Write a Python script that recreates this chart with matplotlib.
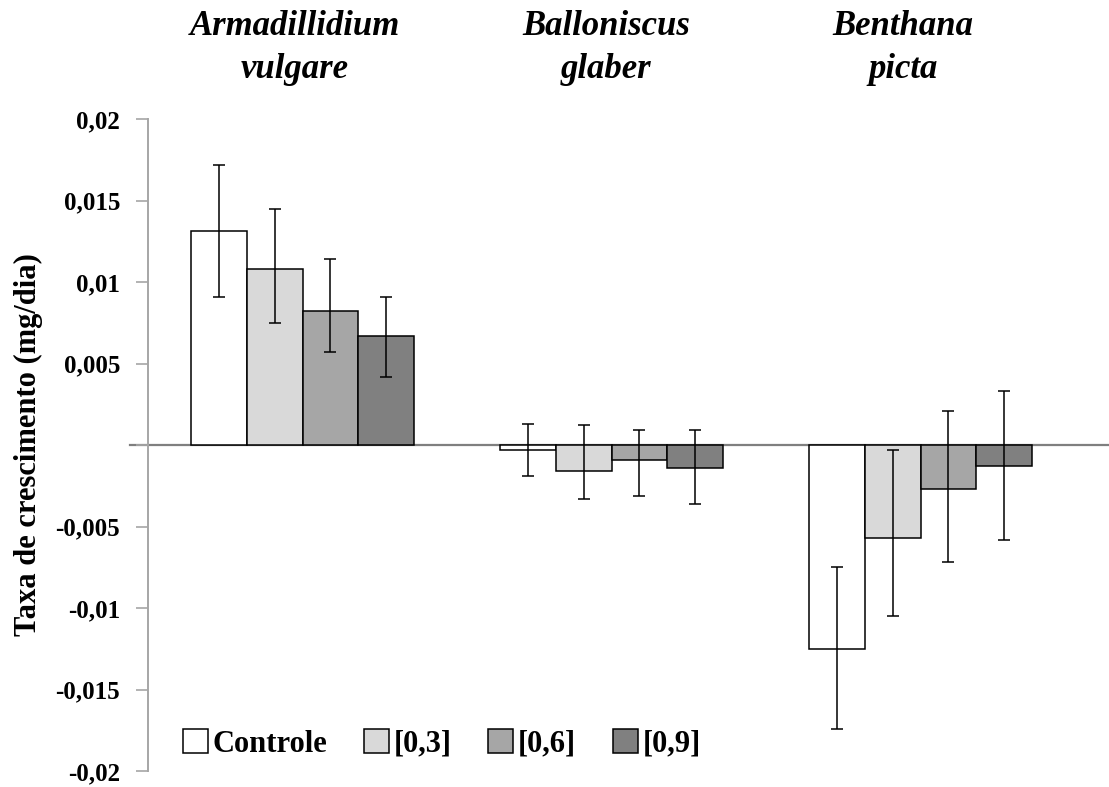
import numpy as np
import matplotlib
matplotlib.use("Agg")
from matplotlib import pyplot as plt
from matplotlib.patches import Patch

plt.rcParams['font.family'] = ['Liberation Serif', 'DejaVu Serif']

especies = ['Armadillidium\nvulgare', 'Balloniscus\nglaber', 'Benthana\npicta']
tratamentos = ['Controle', '[0,3]', '[0,6]', '[0,9]']
cores = ['#ffffff', '#d9d9d9', '#a6a6a6', '#808080']

# medias por tratamento (uma por especie)
controle = [0.0131, -0.0003, -0.0125]
c03 = [0.0108, -0.0016, -0.0057]
c06 = [0.0082, -0.0009, -0.0027]
c09 = [0.0067, -0.0014, -0.0013]

# erros (abaixo, acima)
err_controle = [[0.0040, 0.0016, 0.0049], [0.0041, 0.0016, 0.0050]]
err_c03 = [[0.0033, 0.0017, 0.0048], [0.0037, 0.0028, 0.0054]]
err_c06 = [[0.0025, 0.0022, 0.0045], [0.0032, 0.0018, 0.0048]]
err_c09 = [[0.0025, 0.0022, 0.0045], [0.0024, 0.0023, 0.0046]]

yticks = [0.02, 0.015, 0.01, 0.005, 0, -0.005, -0.01, -0.015, -0.02]
ytick_labels = ['0,02', '0,015', '0,01', '0,005', '', '-0,005', '-0,01', '-0,015', '-0,02']

medias = [controle, c03, c06, c09]
erros = [err_controle, err_c03, err_c06, err_c09]

fig = plt.figure(figsize=(11.09, 7.87), dpi=100)
ax = fig.add_axes([148/1109, 16/787, 961/1109, 652/787])

x = np.arange(len(especies))
larg = 0.181
for i in range(4):
    pos = x + (i - 1.5) * larg
    ax.bar(pos, medias[i], larg, color=cores[i], edgecolor='black', linewidth=1.1, zorder=2)
    ax.errorbar(pos, medias[i], yerr=erros[i], fmt='none', ecolor='black',
                elinewidth=1.1, capsize=4, capthick=1.1, zorder=3)

ax.axhline(0, xmin=-0.019, xmax=1, color='#7f7f7f', linewidth=1.6, clip_on=False, zorder=1)

ax.set_xlim(-0.5, 2.61)
ax.set_ylim(-0.02, 0.02)
ax.set_yticks(yticks)
ax.set_yticklabels(ytick_labels, fontsize=18, fontweight='bold')
ax.tick_params(axis='y', direction='out', length=9, width=1.2, color='#a6a6a6', pad=11)
ax.set_xticks([])
for s in ['top', 'right', 'bottom']:
    ax.spines[s].set_visible(False)
ax.spines['left'].set_color('#a6a6a6')
ax.spines['left'].set_linewidth(1.4)

fig.text(28/1109, 1 - 445/787, 'Taxa de crescimento (mg/dia)', rotation=90, fontsize=22,
         fontweight='bold', ha='center', va='center')

titulos_x = [295, 606, 903]
for tx, nome in zip(titulos_x, especies):
    fig.text(tx/1109, 1 - 10/787, nome, ha='center', va='top', fontsize=25,
             fontweight='bold', fontstyle='italic', linespacing=1.4)

handles = [Patch(facecolor=c, edgecolor='black', linewidth=1.1) for c in cores]
ax.legend(handles, tratamentos, loc='center left', ncol=4, frameon=False,
          bbox_to_anchor=(183/1109, 43/787), bbox_transform=fig.transFigure,
          prop={'size': 22, 'weight': 'bold'}, handlelength=0.82, handleheight=0.82,
          handletextpad=0.15, columnspacing=1.2, borderpad=0, borderaxespad=0)

plt.savefig('out.png', dpi=100)
